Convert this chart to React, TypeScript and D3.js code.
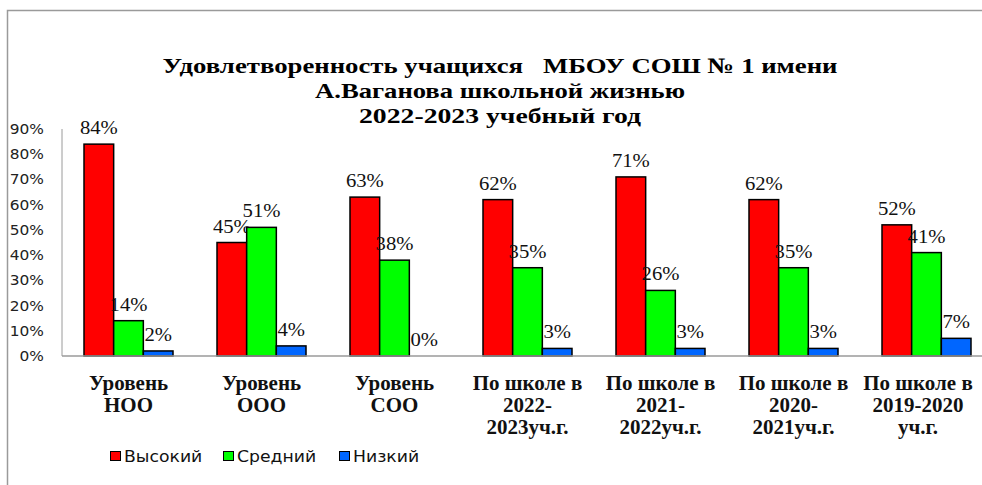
import React from 'react';
import * as d3 from 'd3';

// chart data
const categories = ['Уровень НОО', 'Уровень ООО', 'Уровень СОО', 'По школе в 2022-2023уч.г.', 'По школе в 2021-2022уч.г.', 'По школе в 2020-2021уч.г.', 'По школе в 2019-2020 уч.г.'];
const categoryLines = [
  ['Уровень', 'НОО'],
  ['Уровень', 'ООО'],
  ['Уровень', 'СОО'],
  ['По школе в', '2022-', '2023уч.г.'],
  ['По школе в', '2021-', '2022уч.г.'],
  ['По школе в', '2020-', '2021уч.г.'],
  ['По школе в', '2019-2020', 'уч.г.'],
];
const seriesNames = ['Высокий', 'Средний', 'Низкий'];
const high = [84, 45, 63, 62, 71, 62, 52];
const medium = [14, 51, 38, 35, 26, 35, 41];
const low = [2, 4, 0, 3, 3, 3, 7];
const yTicks = [0, 10, 20, 30, 40, 50, 60, 70, 80, 90];
const titleLines = ['Удовлетворенность учащихся   МБОУ СОШ № 1 имени', 'А.Ваганова школьной жизнью', '2022-2023 учебный год'];

const seriesValues = [high, medium, low];
const colors = ['#ff0000', '#00ff00', '#0066ff'];

const W = 982;
const H = 485;
const left = 62;
const base = 356;
const top = 129;

const SERIF = 'Liberation Serif, DejaVu Serif, serif';
const SANS = 'DejaVu Sans, Verdana, sans-serif';

export default function App() {
  const y = d3.scaleLinear().domain([0, 90]).range([base, top]);
  const x0 = d3.scaleBand<string>().domain(categories).range([left, left + 7 * 133]);
  const x1 = d3.scaleBand<string>().domain(seriesNames).range([22, 111]);

  const titleWidths = [675, 370, 282];

  return (
    <svg width={W} height={H} style={{ position: 'absolute', left: 0, top: 0, background: '#fff' }}>
      {/* frame */}
      <path d={`M7.5,${H} V10.5 H${W}`} fill="none" stroke="#9a9a9a" strokeWidth={1.5} />

      {/* title */}
      {titleLines.map((t, i) => (
        <text key={i} x={500} y={73 + i * 25} textAnchor="middle" fontWeight="bold"
          fontSize={22} textLength={titleWidths[i]} lengthAdjust="spacingAndGlyphs"
          style={{ whiteSpace: 'pre', fontFamily: SERIF }}>
          {t}
        </text>
      ))}

      {/* y axis */}
      <line x1={left} x2={left} y1={top} y2={base} stroke="#9a9a9a" />
      {yTicks.map(t => (
        <text key={t} transform={`translate(44,${y(t) + 5}) scale(1.1,1)`} textAnchor="end"
          style={{ fontFamily: SANS }} fontSize={14} fill="#222">{t}%</text>
      ))}

      {/* bars */}
      {categories.map((c, ci) => (
        <g key={c} transform={`translate(${x0(c)},0)`}>
          {seriesNames.map((s, si) => {
            const v = seriesValues[si][ci];
            const bx = x1(s)!;
            const bw = x1.bandwidth();
            return (
              <g key={s}>
                <rect x={bx} y={y(v)} width={bw} height={base - y(v)} fill={colors[si]} stroke="#000" strokeWidth={1.5} />
                <text transform={`translate(${bx + bw / 2},${y(v) - 10}) scale(1.15,1)`} textAnchor="middle"
                  style={{ fontFamily: SERIF }} fontSize={18} fill="#111">{v}%</text>
              </g>
            );
          })}
        </g>
      ))}

      {/* x axis */}
      <line x1={left} x2={W} y1={base} y2={base} stroke="#9a9a9a" strokeWidth={1.5} />

      {/* category labels */}
      {categories.map((c, ci) => (
        <g key={c}>
          {categoryLines[ci].map((l, li) => (
            <text key={li} transform={`translate(${Math.min(x0(c)! + 66.5, 918)},${390 + li * 22}) scale(1.05,1)`} textAnchor="middle"
              style={{ fontFamily: SERIF }} fontWeight="bold" fontSize={20} fill="#111">{l}</text>
          ))}
        </g>
      ))}

      {/* legend */}
      {seriesNames.map((s, si) => {
        const lx = [110, 223, 339][si];
        return (
          <g key={s}>
            <rect x={lx + 0.5} y={451.5} width={10} height={9} fill={colors[si]} stroke="#000" strokeWidth={1} />
            <text transform={`translate(${lx + 14},461.5) scale(1.15,1)`} style={{ fontFamily: SANS }} fontSize={15} fill="#111">{s}</text>
          </g>
        );
      })}
    </svg>
  );
}
